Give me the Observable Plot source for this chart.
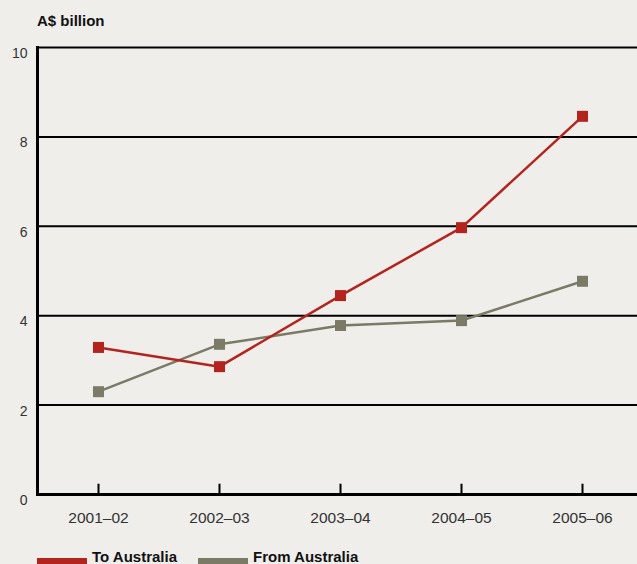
<!DOCTYPE html>
<html><head><meta charset="utf-8">
<script src="https://cdn.jsdelivr.net/npm/d3@7"></script>
<script src="https://cdn.jsdelivr.net/npm/@observablehq/plot@0.6"></script>
<style>
html,body{margin:0;padding:0;background:#efeeea;}
#wrap{position:relative;width:637px;height:564px;overflow:hidden;font-family:"Liberation Sans",Arial,Helvetica,sans-serif;}
#wrap svg{position:absolute;left:0;top:0;}
.title{position:absolute;left:37px;top:13px;font-size:15px;line-height:15px;font-weight:bold;color:#111;white-space:nowrap;}
.sw{position:absolute;width:50px;height:6px;}
.lt{position:absolute;font-size:15px;line-height:15px;font-weight:bold;color:#111;white-space:nowrap;}
</style></head><body><div id="wrap"></div>
<script>
const years = ["2001–02", "2002–03", "2003–04", "2004–05", "2005–06"];
const toAustralia = [3.29, 2.86, 4.45, 5.97, 8.46];
const fromAustralia = [2.30, 3.36, 3.78, 3.89, 4.77];
const seriesNames = ["To Australia", "From Australia"];
const seriesColors = ["#b3241e", "#7a7a66"];
const yTicks = [0, 2, 4, 6, 8, 10];
const unitLabel = "A$ billion";

const seriesValues = [toAustralia, fromAustralia];
// draw "From" first so the red line sits on top
const data = [];
[1, 0].forEach(s => years.forEach((y, i) => data.push({year: y, value: seriesValues[s][i], series: seriesNames[s]})));

const chart = Plot.plot({
  width: 637, height: 564,
  marginTop: 47, marginBottom: 70, marginLeft: 37, marginRight: 0,
  style: {background: "transparent", fontFamily: "'Liberation Sans', Arial, sans-serif", color: "#333", overflow: "visible"},
  x: {type: "point", domain: years, range: [98, 582], padding: 0, label: null},
  y: {domain: [0, 10], label: null},
  color: {domain: seriesNames, range: seriesColors},
  marks: [
    Plot.ruleY(yTicks.filter(d => d > 0), {stroke: "#000", strokeWidth: 2}),
    Plot.frame({anchor: "left", stroke: "#000", strokeWidth: 3}),
    Plot.ruleY([0], {stroke: "#000", strokeWidth: 3}),
    Plot.ruleX(years, {y1: 0, y2: 0.23, stroke: "#000", strokeWidth: 2}),
    Plot.axisY({ticks: yTicks, tickSize: 0, tickPadding: 10, dy: 6, fontSize: 14, anchor: "left"}),
    Plot.axisX({tickSize: 0, tickPadding: 17, fontSize: 15.5}),
    Plot.line(data, {x: "year", y: "value", z: "series", stroke: "series", strokeWidth: 2.5}),
    Plot.dot(data, {x: "year", y: "value", fill: "series", symbol: "square", r: 6.2})
  ]
});
const wrap = document.getElementById("wrap");
wrap.appendChild(chart);

const t = document.createElement("div");
t.className = "title"; t.textContent = unitLabel; wrap.appendChild(t);

const legendX = [[37, 92], [198, 253]];
seriesNames.forEach((n, i) => {
  const sw = document.createElement("div");
  sw.className = "sw"; sw.style.left = legendX[i][0] + "px"; sw.style.top = "558px";
  sw.style.background = seriesColors[i]; wrap.appendChild(sw);
  const lt = document.createElement("div");
  lt.className = "lt"; lt.style.left = legendX[i][1] + "px"; lt.style.top = "549px";
  lt.textContent = n; wrap.appendChild(lt);
});
</script></body></html>
